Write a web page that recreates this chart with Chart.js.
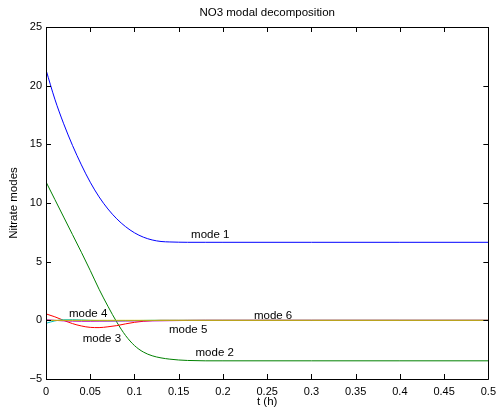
<!DOCTYPE html>
<html>
<head>
<meta charset="utf-8">
<script src="https://cdn.jsdelivr.net/npm/chart.js@4"></script>
<style>
  html, body { margin: 0; padding: 0; background: #fff; }
  #wrap { width: 502px; height: 416px; }
</style>
</head>
<body>
<div id="wrap"><canvas id="modesChart" width="502" height="416"></canvas></div>
<script>
// time samples (h)
const times = [0, 0.01, 0.02, 0.03, 0.04, 0.05, 0.06, 0.07, 0.08, 0.09, 0.1,
               0.11, 0.12, 0.13, 0.14, 0.15, 0.16, 0.18, 0.2, 0.3, 0.4, 0.5];

const mode1 = [21.35, 18.85, 16.75, 14.9, 13.25, 11.77, 10.52, 9.49, 8.65, 7.98, 7.46,
               7.09, 6.85, 6.72, 6.68, 6.66, 6.65, 6.65, 6.65, 6.65, 6.65, 6.65];
const mode2 = [11.8, 10.3, 8.8, 7.3, 5.8, 4.25, 2.65, 1.2, -0.15, -1.3, -2.15,
               -2.7, -3.02, -3.2, -3.31, -3.38, -3.42, -3.45, -3.45, -3.45, -3.45, -3.45];
const mode3 = [0.55, 0.3, 0.0, -0.28, -0.48, -0.6, -0.62, -0.55, -0.45, -0.3, -0.17,
               -0.08, -0.02, 0, 0, 0, 0, 0, 0, 0, 0, 0];
const mode4 = [-0.25, -0.05, 0.05, 0.05, 0.03, 0.0, -0.03, -0.05, -0.05, -0.04, -0.02,
               -0.01, 0, 0, 0, 0, 0, 0, 0, 0, 0, 0];
const mode5 = [0.05, 0.0, -0.05, -0.07, -0.08, -0.08, -0.07, -0.06, -0.05, -0.05, -0.05,
               -0.05, -0.05, -0.04, -0.03, -0.02, -0.01, 0, 0, 0, 0, 0];
const mode6 = [0, 0, 0, 0, 0, 0, 0, 0, 0, 0, 0, 0, 0, 0, 0, 0, 0, 0, 0, 0, 0, 0];

const modeNames = ['mode 1', 'mode 2', 'mode 3', 'mode 4', 'mode 5', 'mode 6'];
const modeColors = ['#0000ff', '#008000', '#ff0000', '#00bfbf', '#bf00bf', '#bfbf00'];
// where each text label sits, in data units (t, value)
const labelT = [0.164, 0.169, 0.0415, 0.026, 0.139, 0.235];
const labelV = [7.27, -2.8, -1.6, 0.54, -0.83, 0.37];

const xTicks = [0, 0.05, 0.1, 0.15, 0.2, 0.25, 0.3, 0.35, 0.4, 0.45, 0.5];
const yTicks = [-5, 0, 5, 10, 15, 20, 25];

const FONT = '"Liberation Sans", Arial, sans-serif';

const toPoints = ys => ys.map((y, i) => ({ x: times[i], y: y }));
const allModes = [mode1, mode2, mode3, mode4, mode5, mode6];

// box, inward ticks, title, axis titles, mode labels
const matlabLook = {
    id: 'matlabLook',
    afterDraw(chart) {
        const { ctx, chartArea: a, scales } = chart;
        const xs = scales.x, ys = scales.y;
        ctx.save();
        ctx.strokeStyle = '#000';
        ctx.lineWidth = 1;
        ctx.beginPath();
        ctx.rect(Math.round(a.left) + 0.5, Math.round(a.top) + 0.5,
                 Math.round(a.right - a.left), Math.round(a.bottom - a.top));
        xTicks.forEach(v => {
            const px = Math.round(xs.getPixelForValue(v)) + 0.5;
            ctx.moveTo(px, a.bottom); ctx.lineTo(px, a.bottom - 5);
            ctx.moveTo(px, a.top); ctx.lineTo(px, a.top + 5);
        });
        yTicks.forEach(v => {
            const py = Math.round(ys.getPixelForValue(v)) + 0.5;
            ctx.moveTo(a.left, py); ctx.lineTo(a.left + 5, py);
            ctx.moveTo(a.right, py); ctx.lineTo(a.right - 5, py);
        });
        ctx.stroke();

        ctx.fillStyle = '#000';
        ctx.font = '11.5px ' + FONT;
        ctx.textAlign = 'center';
        ctx.textBaseline = 'middle';
        ctx.fillText('NO3 modal decomposition', (a.left + a.right) / 2, 13);
        ctx.fillText('t (h)', (a.left + a.right) / 2, 402);
        ctx.save();
        ctx.translate(14, (a.top + a.bottom) / 2);
        ctx.rotate(-Math.PI / 2);
        ctx.fillText('Nitrate modes', 0, 0);
        ctx.restore();

        ctx.textAlign = 'left';
        modeNames.forEach((name, i) => {
            ctx.fillText(name, xs.getPixelForValue(labelT[i]), ys.getPixelForValue(labelV[i]));
        });
        ctx.restore();
    }
};

const chart = new Chart(document.getElementById('modesChart'), {
    type: 'line',
    data: {
        datasets: allModes.map((m, i) => ({
            label: modeNames[i],
            data: toPoints(m),
            borderColor: modeColors[i],
            borderWidth: 1,
            pointRadius: 0,
            fill: false,
            cubicInterpolationMode: 'monotone',
            order: 6 - i
        }))
    },
    options: {
        responsive: false,
        animation: false,
        layout: { padding: { top: 27, right: 11, left: 0, bottom: 0 } },
        plugins: {
            legend: { display: false },
            title: { display: false },
            tooltip: { enabled: false }
        },
        scales: {
            x: {
                type: 'linear',
                min: 0,
                max: 0.5,
                grid: { display: false, drawTicks: false },
                border: { display: false },
                afterFit: s => { s.height = 37; },
                afterBuildTicks: s => { s.ticks = xTicks.map(v => ({ value: v })); },
                ticks: {
                    padding: 6,
                    color: '#000',
                    font: { family: FONT, size: 11 },
                    maxRotation: 0,
                    callback: v => String(v)
                }
            },
            y: {
                min: -5,
                max: 25,
                grid: { display: false, drawTicks: false },
                border: { display: false },
                afterFit: s => { s.width = 46; },
                afterBuildTicks: s => { s.ticks = yTicks.map(v => ({ value: v })); },
                ticks: {
                    padding: 4,
                    color: '#000',
                    font: { family: FONT, size: 11 },
                    callback: v => String(v).replace('-', '\u2212')
                }
            }
        }
    },
    plugins: [matlabLook]
});
</script>
</body>
</html>
